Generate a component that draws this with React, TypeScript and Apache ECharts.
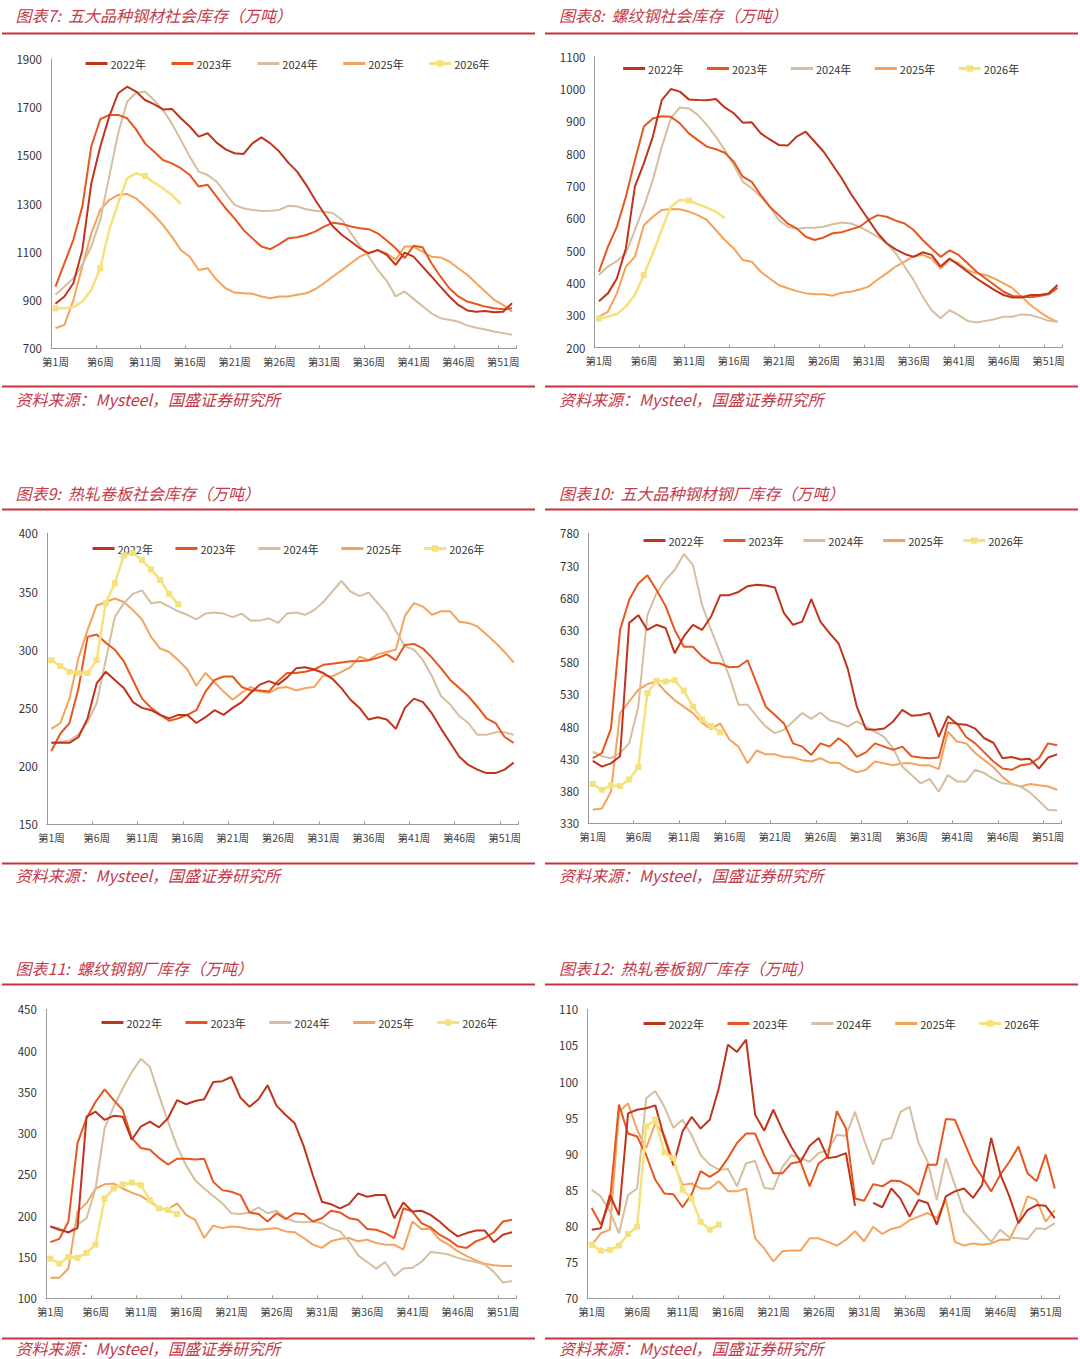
import React, { useEffect, useRef } from "react";
import * as echarts from "echarts";

const weeks = Array.from({ length: 52 }, (_, i) => `第${i + 1}周`);
const years = ["2022年", "2023年", "2024年", "2025年", "2026年"];
const colors = ["#C0341D", "#E8561E", "#D6BE9E", "#F5A35A", "#F5E27C"];

// 图表7 五大品种钢材社会库存
const p7_2022 = [885,915,970,1108,1384,1536,1661,1758,1785,1765,1730,1713,1691,1693,1654,1620,1578,1592,1553,1525,1509,1506,1550,1575,1550,1516,1470,1433,1378,1316,1260,1205,1170,1143,1115,1094,1108,1088,1046,1097,1080,1039,998,956,915,880,857,852,855,850,852,887];
const p7_2023 = [956,1053,1150,1288,1537,1650,1668,1668,1654,1608,1550,1516,1481,1467,1447,1419,1371,1378,1329,1281,1239,1191,1156,1122,1111,1132,1156,1161,1170,1184,1205,1221,1216,1205,1198,1194,1177,1147,1115,1074,1125,1119,1053,998,949,915,894,884,873,866,862,866];
const p7_2024 = [922,956,990,1046,1122,1233,1412,1592,1723,1760,1765,1730,1689,1633,1564,1495,1433,1419,1391,1343,1295,1281,1274,1270,1271,1274,1291,1288,1277,1271,1266,1260,1233,1177,1125,1080,1025,980,915,936,905,875,845,825,818,810,795,785,778,770,763,756];
const p7_2025 = [783,797,900,1039,1177,1274,1315,1336,1340,1322,1288,1253,1212,1163,1108,1080,1025,1032,984,949,931,928,926,915,908,915,915,922,928,945,970,998,1025,1053,1080,1097,1105,1094,1067,1122,1122,1101,1080,1077,1060,1032,1005,970,936,901,880,852];
const p7_2026 = [866,866,870,894,942,1032,1191,1302,1405,1426,1415,1387,1364,1336,1299];

// 图表8 螺纹钢社会库存
const p8_2022 = [344,368,414,507,698,770,853,966,1000,992,968,966,965,969,943,925,896,897,863,844,827,825,853,868,837,806,765,724,677,636,595,554,523,504,490,481,495,487,451,476,456,435,414,396,378,363,355,355,363,363,368,394];
const p8_2023 = [435,512,574,667,780,884,909,916,914,894,863,842,822,814,803,775,729,713,672,636,610,584,569,543,533,541,554,557,566,574,595,610,605,593,584,564,533,507,481,501,487,461,435,414,394,373,360,358,356,360,365,385];
const p8_2024 = [425,451,468,492,564,636,719,822,909,943,940,920,889,853,811,765,713,693,667,636,595,574,567,571,571,574,582,587,584,574,559,543,523,492,451,409,358,316,291,316,301,283,278,283,288,296,296,303,301,293,283,280];
const p8_2025 = [296,311,368,451,481,579,605,626,629,628,621,610,595,564,533,507,471,466,435,414,394,384,375,368,365,365,361,370,373,380,389,411,430,451,466,483,487,476,445,471,461,440,430,425,414,399,384,358,332,311,293,280];
const p8_2026 = [290,296,304,327,363,425,492,566,636,657,655,644,633,621,600];

// 图表9 热轧卷板社会库存
const p9_2022 = [220,220,220,225,241,271,281,274,267,255,250,248,244,241,244,244,237,242,248,244,250,255,263,270,273,270,276,284,285,283,280,275,267,257,250,240,242,240,232,250,258,255,245,232,220,208,201,197,194,194,197,203];
const p9_2023 = [213,228,237,267,311,313,306,300,290,274,258,250,244,239,241,244,248,264,274,277,277,268,265,265,264,273,280,280,281,283,287,288,289,290,290,291,293,296,291,304,305,301,293,284,274,267,260,251,241,237,225,220];
const p9_2024 = [220,221,222,227,238,254,291,328,340,348,351,340,341,337,333,330,326,331,332,331,328,331,325,325,327,323,331,332,330,334,341,350,359,350,346,349,340,331,316,303,300,291,277,260,253,243,237,227,227,229,229,227];
const p9_2025 = [232,237,258,293,317,338,341,344,341,334,326,311,301,298,291,283,269,280,272,264,257,263,268,264,263,267,268,265,267,268,278,277,281,285,294,291,296,298,300,329,340,337,330,333,333,324,323,320,313,306,298,289];
const p9_2026 = [291,286,281,280,280,291,340,357,381,383,377,369,360,348,339];

// 图表10 五大品种钢材钢厂库存
const p10_2022 = [427,418,423,434,641,653,630,638,633,594,620,638,630,651,684,684,689,698,700,699,696,656,638,643,678,643,625,609,570,511,476,475,477,488,506,497,498,501,464,496,484,483,477,462,455,431,433,429,430,415,432,437];
const p10_2023 = [431,439,477,630,677,702,715,692,667,630,604,604,589,579,578,572,573,583,547,511,498,485,454,449,436,454,449,462,451,433,440,454,449,444,449,434,432,431,432,486,485,464,454,440,426,415,413,420,422,431,454,451];
const p10_2024 = [441,434,431,439,454,511,653,687,708,723,748,731,669,630,594,558,514,514,496,480,470,475,488,501,492,502,490,486,480,488,480,472,464,446,418,405,392,399,379,405,395,395,413,408,399,392,391,387,378,365,351,350];
const p10_2025 = [351,353,379,501,519,537,546,550,534,521,511,501,486,476,485,460,449,423,443,437,437,433,432,428,426,431,424,424,415,409,413,426,423,420,423,423,420,420,414,472,457,454,439,428,417,402,391,387,391,389,387,382];
const p10_2026 = [391,382,389,388,398,417,532,551,550,552,536,511,491,481,471];

// 图表11 螺纹钢钢厂库存
const p11_2022 = [187,183,180,185,320,326,316,321,320,292,308,314,307,318,340,335,339,341,362,363,368,343,332,341,358,333,322,312,284,249,217,214,209,214,227,223,225,225,197,216,205,206,201,193,183,175,179,182,182,168,177,180];
const p11_2023 = [168,172,193,288,318,338,353,340,328,294,282,280,270,262,269,269,268,269,241,231,229,225,204,202,193,203,196,203,202,193,197,206,204,197,195,184,183,179,173,209,205,191,186,177,171,163,161,169,173,180,193,195];
const p11_2024 = [187,185,179,189,197,233,306,332,354,374,390,380,346,314,284,261,243,233,224,215,203,202,204,210,203,206,197,193,192,193,191,185,181,169,152,144,136,144,127,136,137,144,156,155,153,149,146,144,141,132,119,121];
const p11_2025 = [125,125,136,205,215,233,238,239,233,228,224,217,209,208,215,201,195,173,188,185,187,186,184,183,184,185,181,180,173,165,161,169,172,173,169,171,167,165,165,159,193,184,184,171,165,157,151,146,142,140,139,139];
const p11_2026 = [148,142,150,149,155,165,221,233,238,240,237,219,209,207,202];

// 图表12 热轧卷板钢厂库存
const p12_2022 = [79.5,79.7,84.3,81.5,95.6,96.1,96.3,96.7,92.2,88.4,93.1,95.1,93.5,94.7,99.1,105.1,104.1,105.8,95.4,93.2,96.1,93.3,90.9,88.9,91.1,92.2,89.4,89.6,90.1,82.8,null,83.2,82.6,85.2,83.8,81.3,83.6,83.2,80.2,84.1,84.8,85.2,83.9,85.7,92.2,87.2,84.1,80.4,82.2,82.9,82.8,81.1];
const p12_2023 = [82.5,80.2,83.4,96.8,92.8,92.4,89.8,86.4,84.5,84.4,82.6,84.4,87.6,86.8,87.6,89.4,91.5,92.8,92.8,89.8,87.3,87.3,88.7,88.9,85.5,88.7,89.6,95.9,93.5,83.8,83.5,85.8,85.5,86.3,86.2,85.5,84.3,88.5,88.5,94.8,94.7,91.7,88.7,86.8,84.8,87.1,88.9,91.0,87.3,86.2,89.9,85.2];
const p12_2024 = [85.0,84.1,82.0,79.0,84.3,85.2,97.7,98.7,96.5,93.6,94.7,92.6,89.8,88.5,87.8,87.9,85.5,88.7,89.0,85.3,85.1,88.2,89.8,89.4,88.9,90.1,90.5,92.6,92.5,95.8,91.9,88.5,91.9,92.2,95.8,96.5,91.5,88.9,83.6,89.4,85.7,82.0,80.6,79.2,77.8,79.5,78.4,78.3,78.2,79.7,79.6,80.4];
const p12_2025 = [77.4,79.0,79.5,95.8,97.0,93.3,90.8,94.2,92.6,88.9,85.7,85.9,85.2,85.2,86.2,84.8,84.8,85.2,78.3,76.9,75.1,76.5,76.6,76.6,78.3,78.3,77.8,77.3,78.1,79.3,77.9,79.9,78.9,79.6,79.9,80.8,81.3,81.8,81.1,83.6,77.8,77.3,77.6,77.4,77.6,78.1,78.1,80.6,84.1,83.6,80.6,82.2];
const p12_2026 = [77.4,76.6,76.7,77.3,78.9,79.9,93.8,94.7,90.2,89.4,85.0,83.8,80.6,79.5,80.2];

const titles = [
  "图表7:  五大品种钢材社会库存（万吨）",
  "图表8:  螺纹钢社会库存（万吨）",
  "图表9:  热轧卷板社会库存（万吨）",
  "图表10:  五大品种钢材钢厂库存（万吨）",
  "图表11:  螺纹钢钢厂库存（万吨）",
  "图表12:  热轧卷板钢厂库存（万吨）",
];
const sourceText = "资料来源：Mysteel，国盛证券研究所";

const panelData = [
  [p7_2022, p7_2023, p7_2024, p7_2025, p7_2026],
  [p8_2022, p8_2023, p8_2024, p8_2025, p8_2026],
  [p9_2022, p9_2023, p9_2024, p9_2025, p9_2026],
  [p10_2022, p10_2023, p10_2024, p10_2025, p10_2026],
  [p11_2022, p11_2023, p11_2024, p11_2025, p11_2026],
  [p12_2022, p12_2023, p12_2024, p12_2025, p12_2026],
];

// y axis: min, max, interval, label step
const yMin = [700, 200, 150, 330, 100, 70];
const yMax = [1900, 1100, 400, 780, 450, 110];
const yInterval = [100, 100, 50, 10, 50, 5];
const yLabelStep = [200, 100, 50, 50, 50, 5];

const layout = [
  { grid: { left: 51, top: 59, width: 465.5, height: 289.3 }, legend: { left: 84, top: 58, gap: 24 } },
  { grid: { left: 594.4, top: 56.7, width: 467.6, height: 291 }, legend: { left: 621.6, top: 63, gap: 22 } },
  { grid: { left: 46.8, top: 533.3, width: 471.4, height: 291 }, legend: { left: 91, top: 543, gap: 21 } },
  { grid: { left: 588.2, top: 533.3, width: 473.5, height: 290 }, legend: { left: 642, top: 535, gap: 18 } },
  { grid: { left: 45.8, top: 1009.3, width: 470.7, height: 289 }, legend: { left: 100, top: 1017, gap: 22 } },
  { grid: { left: 587.2, top: 1009.3, width: 472.1, height: 289 }, legend: { left: 642, top: 1018, gap: 22 } },
];

const titleY = [15, 492.5, 967.5];
const topRuleY = [32.5, 508.5, 983.5];
const bottomRuleY = [385.5, 862.5, 1337.5];
const sourceY = [398.5, 875, 1348];

const RED_TEXT = "#C23A4A";
const RED_RULE = "#C8323C";
const FONT = '"Noto Sans CJK SC", "Noto Sans", sans-serif';

function buildOption() {
  const grid: any[] = [];
  const xAxis: any[] = [];
  const yAxis: any[] = [];
  const series: any[] = [];
  const legend: any[] = [];
  const graphic: any[] = [];

  layout.forEach((l, i) => {
    grid.push({ ...l.grid, containLabel: false });
    xAxis.push({
      type: "category",
      gridIndex: i,
      data: weeks,
      boundaryGap: true,
      axisLine: { lineStyle: { color: "#9a9a9a", width: 1 } },
      axisTick: { show: true, interval: 4, inside: true, length: 3, alignWithLabel: false, lineStyle: { color: "#9a9a9a" } },
      axisLabel: { interval: 4, fontSize: 10.5, color: "#444", fontFamily: FONT, margin: 8 },
      splitLine: { show: false },
    });
    const mn = yMin[i];
    const step = yLabelStep[i];
    yAxis.push({
      type: "value",
      gridIndex: i,
      min: mn,
      max: yMax[i],
      interval: yInterval[i],
      axisLine: { show: true, lineStyle: { color: "#9a9a9a", width: 1 } },
      axisTick: { show: false },
      splitLine: { show: false },
      axisLabel: {
        fontSize: 11.5,
        color: "#333",
        fontFamily: FONT,
        margin: 9,
        formatter: (v: number) => (Math.round(v - mn) % step === 0 ? String(v) : ""),
      },
    });
    panelData[i].forEach((arr, k) => {
      const is26 = k === 4;
      series.push({
        type: "line",
        name: years[k],
        xAxisIndex: i,
        yAxisIndex: i,
        data: arr,
        color: colors[k],
        symbol: is26 ? "rect" : "none",
        symbolSize: is26 ? 6 : 0,
        showSymbol: is26,
        connectNulls: false,
        lineStyle: { width: is26 ? 2.5 : 2, color: colors[k] },
        itemStyle: { color: colors[k] },
        z: is26 ? 5 : 2 + (3 - k) * 0.1,
        emphasis: { disabled: true },
      });
    });
    legend.push({
      data: years.map((y, k) =>
        k < 4 ? { name: y, itemStyle: { opacity: 0 } } : { name: y }
      ),
      left: l.legend.left,
      top: l.legend.top,
      orient: "horizontal",
      padding: 0,
      itemWidth: 22,
      itemHeight: 8,
      itemGap: l.legend.gap,
      lineStyle: { width: 3 },
      textStyle: { fontSize: 11, color: "#333", fontFamily: FONT, padding: [0, 0, 0, -2] },
      selectedMode: false,
    });

    const col = i % 2;
    const row = Math.floor(i / 2);
    const tx = col === 0 ? 15.5 : 559;
    const rx0 = col === 0 ? 2 : 545;
    const rx1 = col === 0 ? 535 : 1078;
    graphic.push({
      type: "text",
      x: tx,
      y: titleY[row],
      style: { text: titles[i], fill: RED_TEXT, font: `italic 16px ${FONT}`, verticalAlign: "middle", textVerticalAlign: "middle" },
    });
    graphic.push({
      type: "rect",
      shape: { x: rx0, y: topRuleY[row], width: rx1 - rx0, height: 2 },
      style: { fill: RED_RULE },
    });
    graphic.push({
      type: "rect",
      shape: { x: rx0, y: bottomRuleY[row], width: rx1 - rx0, height: 2 },
      style: { fill: RED_RULE },
    });
    graphic.push({
      type: "text",
      x: tx,
      y: sourceY[row],
      style: { text: sourceText, fill: RED_TEXT, font: `italic 16px ${FONT}`, verticalAlign: "middle", textVerticalAlign: "middle" },
    });
  });

  return {
    animation: false,
    backgroundColor: "#ffffff",
    grid,
    xAxis,
    yAxis,
    series,
    legend,
    graphic,
  };
}

export default function App() {
  const ref = useRef<HTMLDivElement>(null);
  useEffect(() => {
    if (!ref.current) return;
    const chart = echarts.init(ref.current, undefined, { renderer: "svg", width: 1080, height: 1359 });
    chart.setOption(buildOption() as any);
    return () => chart.dispose();
  }, []);
  return (
    <div
      ref={ref}
      style={{ position: "absolute", left: 0, top: 0, width: 1080, height: 1359, background: "#fff" }}
    />
  );
}
